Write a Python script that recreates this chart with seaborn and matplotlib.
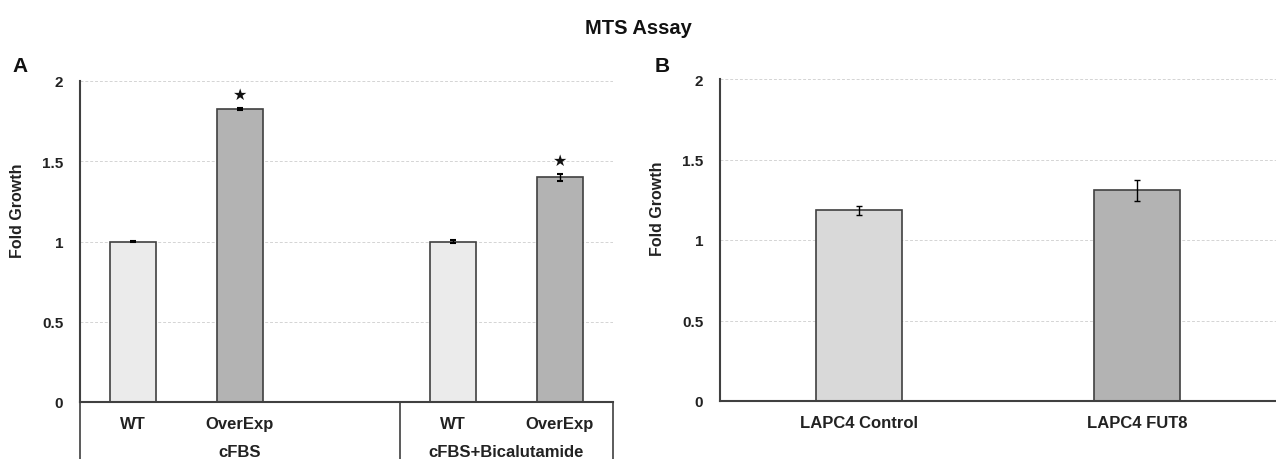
import pandas as pd
import matplotlib
matplotlib.use("Agg")
import matplotlib.pyplot as plt
import seaborn as sns

# panel A data
groups_a = ["cFBS", "cFBS", "cFBS+Bicalutamide", "cFBS+Bicalutamide"]
conds_a = ["WT", "OverExp", "WT", "OverExp"]
values_a = [1.0, 1.825, 1.0, 1.40]
errors_a = [0.005, 0.008, 0.007, 0.022]
stars_a = [False, True, False, True]

# panel B data
labels_b = ["LAPC4 Control", "LAPC4 FUT8"]
values_b = [1.185, 1.31]
errors_b = [0.028, 0.065]

colors_a = {"WT": "#ebebeb", "OverExp": "#b3b3b3"}
colors_b = ["#d9d9d9", "#b3b3b3"]
edge = "#404040"

sns.set_theme(style="white")
plt.rcParams["font.family"] = ["Liberation Sans", "DejaVu Sans"]
plt.rcParams["font.weight"] = "bold"

fig = plt.figure(figsize=(12.76, 4.6), dpi=100)
W, H = 1276, 460
ax_a = fig.add_axes([80 / W, 1 - 403 / H, (613 - 80) / W, (403 - 82) / H])
ax_b = fig.add_axes([720 / W, 1 - 402 / H, (1276 - 720) / W, (402 - 80) / H])

# build slot order for A: each group gets its bars, first group padded with an empty slot
df_a = pd.DataFrame({"group": groups_a, "cond": conds_a, "value": values_a, "err": errors_a})
df_a["key"] = df_a["group"] + "|" + df_a["cond"]
order_a = []
group_spans = []
for g in dict.fromkeys(groups_a):
    start = len(order_a)
    order_a += list(df_a.loc[df_a["group"] == g, "key"])
    if start == 0:
        order_a.append("gap")
    group_spans.append((g, start, len(order_a)))

sns.barplot(data=df_a, x="key", y="value", order=order_a, hue="key",
            palette={k: colors_a[k.split("|")[1]] for k in df_a["key"]},
            width=0.43, edgecolor=edge, linewidth=1.2, errorbar=None,
            legend=False, ax=ax_a)
pos_a = [order_a.index(k) for k in df_a["key"]]
ax_a.errorbar(pos_a, df_a["value"], yerr=df_a["err"], fmt="none",
              ecolor="black", elinewidth=1, capsize=2, capthick=1.5)
for x, v, e, s in zip(pos_a, values_a, errors_a, stars_a):
    if s:
        ax_a.text(x, v + e + 0.085, "★", ha="center", va="center", fontsize=11.5, color="#111111")

ax_a.set_xticks(pos_a)
ax_a.set_xticklabels(conds_a)
ax_a.set_xlim(-0.5, len(order_a) - 0.5)
# group labels and separators under the axis
n = len(order_a)
for g, s0, s1 in group_spans:
    ax_a.text(((s0 + s1) / 2) / n, -0.153, g, transform=ax_a.transAxes,
              ha="center", va="center", fontsize=12, fontweight="bold", color="#222222")
edges = sorted({s for _, s0, s1 in group_spans for s in (s0, s1)})
for e in edges:
    ax_a.plot([e / n, e / n], [0, -0.2], transform=ax_a.transAxes, color=edge,
              lw=1.2, clip_on=False)

# panel B
df_b = pd.DataFrame({"label": labels_b, "value": values_b, "err": errors_b})
sns.barplot(data=df_b, x="label", y="value", hue="label", palette=colors_b,
            width=0.31, edgecolor=edge, linewidth=1.2, errorbar=None,
            legend=False, ax=ax_b)
ax_b.errorbar(range(len(labels_b)), values_b, yerr=errors_b, fmt="none",
              ecolor="black", elinewidth=1, capsize=2.5, capthick=1)
ax_b.set_xlim(-0.5, len(labels_b) - 0.5)

for ax, lx in [(ax_a, -0.103), (ax_b, -0.099)]:
    ax.set_ylim(0, 2)
    ax.set_yticks([0, 0.5, 1, 1.5, 2])
    ax.set_yticklabels(["0", "0.5", "1", "1.5", "2"])
    ax.yaxis.grid(True, color="#d4d4d4", linestyle=(0, (3, 2)), linewidth=0.7)
    ax.set_axisbelow(True)
    ax.set_xlabel("")
    ax.set_ylabel("Fold Growth", fontsize=11.5, fontweight="bold", color="#222222")
    ax.yaxis.set_label_coords(lx, 0.6)
    for sp in ["top", "right"]:
        ax.spines[sp].set_visible(False)
    for sp in ["left", "bottom"]:
        ax.spines[sp].set_color(edge)
        ax.spines[sp].set_linewidth(1.5)
    ax.tick_params(axis="both", length=0, colors="#222222")
    ax.tick_params(axis="y", pad=12, labelsize=11)
    ax.tick_params(axis="x", pad=10, labelsize=12)
    for t in ax.get_xticklabels() + ax.get_yticklabels():
        t.set_fontweight("bold")

fig.text(638 / W, 1 - 28 / H, "MTS Assay", ha="center", va="center",
         fontsize=14.5, fontweight="bold", color="#111111")
fig.text(20 / W, 1 - 66 / H, "A", ha="center", va="center", fontsize=15,
         fontweight="bold", color="#111111")
fig.text(662 / W, 1 - 67 / H, "B", ha="center", va="center", fontsize=15,
         fontweight="bold", color="#111111")

fig.savefig("out.png", dpi=100)
